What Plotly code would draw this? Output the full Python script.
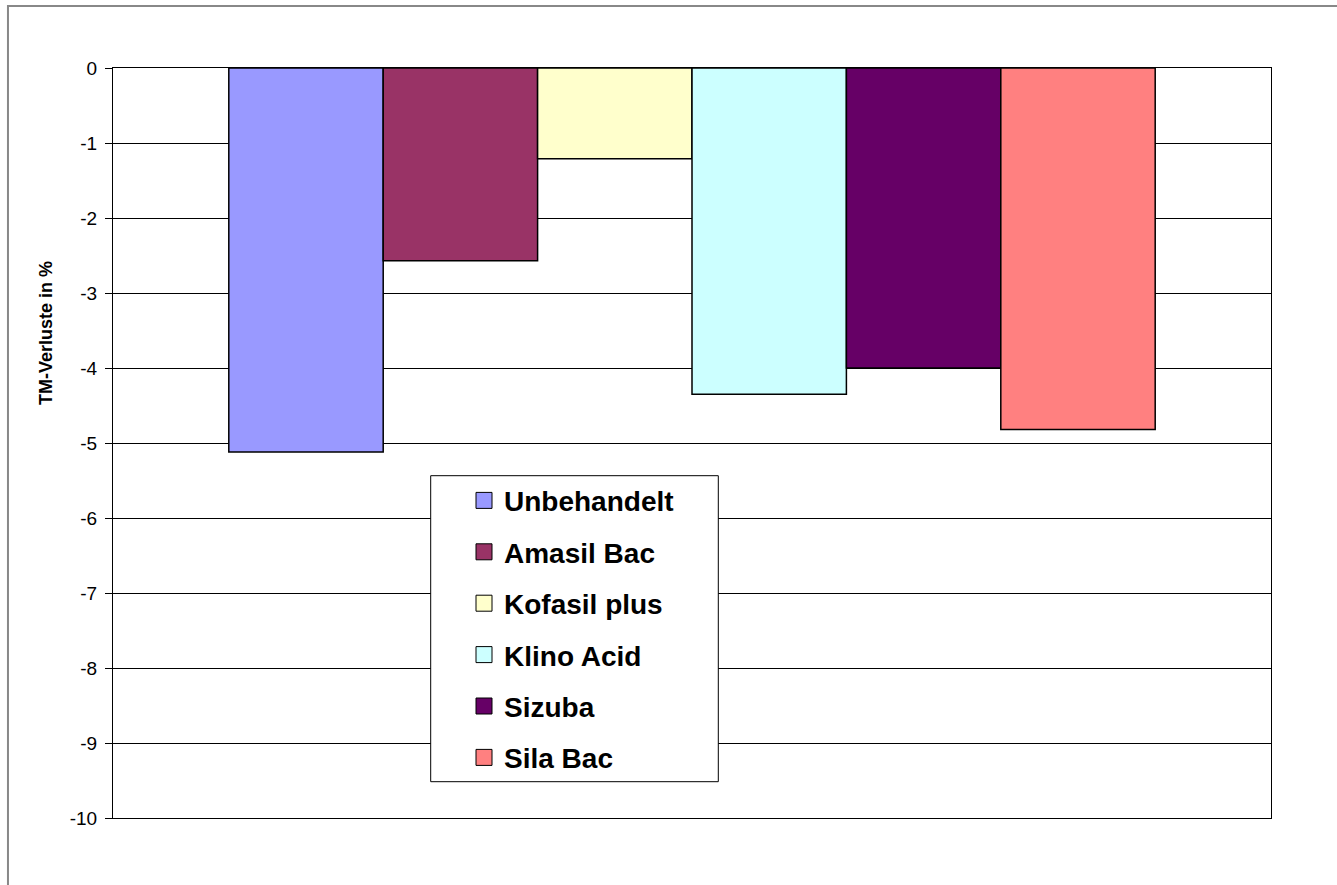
import plotly.graph_objects as go

categories = ["1"]
series_names = ["Unbehandelt", "Amasil Bac", "Kofasil plus", "Klino Acid", "Sizuba", "Sila Bac"]
series_values = [-5.12, -2.57, -1.21, -4.35, -4.0, -4.82]
series_colors = ["#9999FF", "#993366", "#FFFFCC", "#CCFFFF", "#660066", "#FF8080"]
y_ticks = list(range(-10, 1))
y_tick_text = [str(v).replace("\u2212", "-") for v in y_ticks]

FONT = "Liberation Sans, Arial, sans-serif"

fig = go.Figure()
for name, val, col in zip(series_names, series_values, series_colors):
    fig.add_trace(go.Bar(
        x=categories, y=[val], name=name, legendgroup=name, showlegend=False,
        marker=dict(color=col, line=dict(color="black", width=1.5)),
    ))
# legend entries (larger square swatches, same names/colours as the bars)
for name, col in zip(series_names, series_colors):
    fig.add_trace(go.Scatter(
        x=[None], y=[None], mode="markers", name=name, legendgroup=name,
        marker=dict(symbol="square", size=16, color=col, line=dict(color="black", width=1)),
        hoverinfo="skip",
    ))

fig.update_layout(
    width=1337, height=885,
    margin=dict(l=113, r=66, t=68, b=67),
    paper_bgcolor="white", plot_bgcolor="white",
    barmode="group", bargap=0.2, bargroupgap=0,
    font=dict(family=FONT, color="black"),
    showlegend=True,
    legend=dict(
        x=(464 - 113) / 1158, y=0.4564, xanchor="left", yanchor="top",
        borderwidth=0, bgcolor="rgba(0,0,0,0)",
        font=dict(family=FONT, size=28, color="black", weight="bold"),
        tracegroupgap=12, itemwidth=30, itemsizing="trace",
    ),
    xaxis=dict(
        type="category", showticklabels=False, showline=True, mirror=True,
        linecolor="black", linewidth=1, showgrid=False, ticks="",
    ),
    yaxis=dict(
        range=[-10, 0], tickvals=y_ticks, ticktext=y_tick_text,
        showgrid=True, gridcolor="black",
        gridwidth=1, zeroline=False, showline=True, mirror=True,
        linecolor="black", linewidth=1, ticks="outside", ticklen=7,
        tickcolor="black", tickfont=dict(family=FONT, size=19, color="black"),
        ticklabelstandoff=4,
    ),
    shapes=[
        dict(
            type="rect", xref="paper", yref="paper",
            x0=-0.0907, x1=1.2, y0=-0.3, y1=1.0827,
            line=dict(color="#888888", width=2), layer="below",
        ),
        dict(
            type="rect", xref="paper", yref="paper",
            x0=(430.7 - 113) / 1158, x1=(718.3 - 113) / 1158,
            y0=(818 - 781.7) / 750, y1=(818 - 475.7) / 750,
            line=dict(color="black", width=1), fillcolor="white", layer="above",
        ),
    ],
    annotations=[dict(
        text="<b>TM-Verluste in %</b>", textangle=-90,
        xref="paper", yref="paper", x=(46 - 113) / 1158, y=(818 - 333) / 750,
        showarrow=False, xanchor="center", yanchor="middle",
        font=dict(family=FONT, size=18, color="black"),
    )],
)

fig.write_html("out.html")
